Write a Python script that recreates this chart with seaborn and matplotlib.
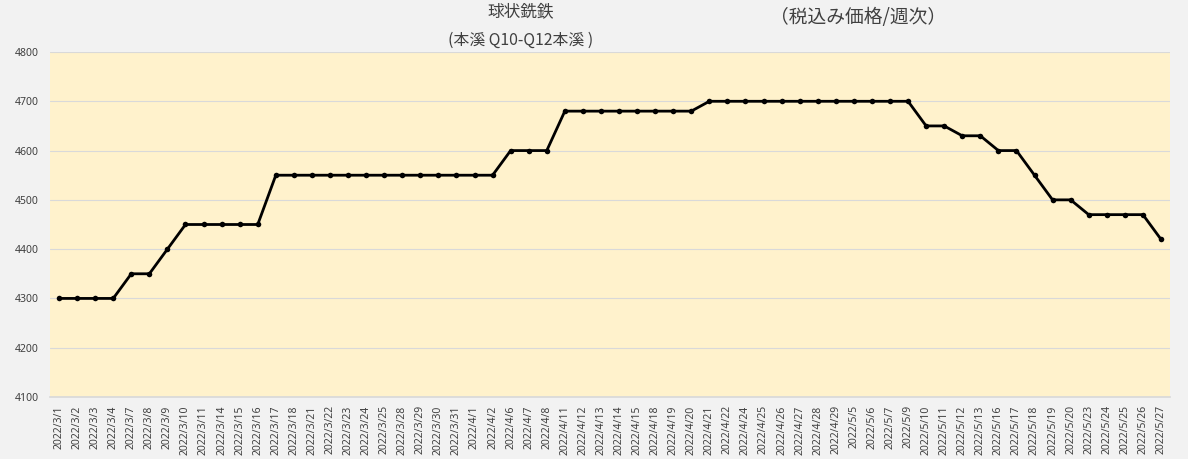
import matplotlib
matplotlib.use("Agg")
import matplotlib.pyplot as plt
import seaborn as sns
import pandas as pd
import numpy as np

dates = ["2022/3/1", "2022/3/2", "2022/3/3", "2022/3/4", "2022/3/7", "2022/3/8", "2022/3/9",
         "2022/3/10", "2022/3/11", "2022/3/14", "2022/3/15", "2022/3/16", "2022/3/17", "2022/3/18",
         "2022/3/21", "2022/3/22", "2022/3/23", "2022/3/24", "2022/3/25", "2022/3/28", "2022/3/29",
         "2022/3/30", "2022/3/31", "2022/4/1", "2022/4/2", "2022/4/6", "2022/4/7", "2022/4/8",
         "2022/4/11", "2022/4/12", "2022/4/13", "2022/4/14", "2022/4/15", "2022/4/18", "2022/4/19",
         "2022/4/20", "2022/4/21", "2022/4/22", "2022/4/24", "2022/4/25", "2022/4/26", "2022/4/27",
         "2022/4/28", "2022/4/29", "2022/5/5", "2022/5/6", "2022/5/7", "2022/5/9", "2022/5/10",
         "2022/5/11", "2022/5/12", "2022/5/13", "2022/5/16", "2022/5/17", "2022/5/18", "2022/5/19",
         "2022/5/20", "2022/5/23", "2022/5/24", "2022/5/25", "2022/5/26", "2022/5/27"]
prices = [4300, 4300, 4300, 4300, 4350, 4350, 4400,
          4450, 4450, 4450, 4450, 4450, 4550, 4550,
          4550, 4550, 4550, 4550, 4550, 4550, 4550,
          4550, 4550, 4550, 4550, 4600, 4600, 4600,
          4680, 4680, 4680, 4680, 4680, 4680, 4680,
          4680, 4700, 4700, 4700, 4700, 4700, 4700,
          4700, 4700, 4700, 4700, 4700, 4700, 4650,
          4650, 4630, 4630, 4600, 4600, 4550, 4500,
          4500, 4470, 4470, 4470, 4470, 4420]
y_ticks = [4100, 4200, 4300, 4400, 4500, 4600, 4700, 4800]
title_main = "球状銑鉄"
title_sub = "(本溪 Q10-Q12本溪 )"
title_right = "（税込み価格/週次）"

sns.set_theme(style="white")
plt.rcParams['font.family'] = ['Noto Sans CJK JP', 'DejaVu Sans']

df = pd.DataFrame({"date": dates, "price": prices})
df["pos"] = np.arange(len(df))

fig = plt.figure(figsize=(11.88, 4.59), dpi=100, facecolor="#F2F2F2")
ax = fig.add_axes([50/1188, 1 - 397/459, 1120/1188, 345/459])
ax.set_facecolor("#FFF2CC")

sns.lineplot(data=df, x="pos", y="price", ax=ax, color="black", linewidth=2,
             marker="o", markersize=4, markeredgewidth=0, sort=False)

ax.set_xlim(-0.5, len(dates) - 0.5)
ax.set_ylim(4100, 4800)
ax.set_yticks(y_ticks)
ax.set_yticklabels([str(v) for v in y_ticks], fontsize=7.5, color="#404040", family=['Noto Sans', 'DejaVu Sans'])
ax.set_xticks(np.arange(len(dates)))
ax.set_xticklabels(dates, rotation=90, fontsize=7.5, color="#404040", family=['Noto Sans', 'DejaVu Sans'])
ax.set_xticks(np.arange(len(dates) + 1) - 0.5, minor=True)
ax.tick_params(axis="x", which="major", length=0, pad=6)
ax.tick_params(axis="x", which="minor", length=4, color="#D9D9D9", direction="out")
ax.tick_params(axis="y", length=0, pad=8)
ax.grid(axis="y", color="#D9D9D9", linewidth=0.8)
ax.set_axisbelow(True)
for s in ["top", "right", "left"]:
    ax.spines[s].set_visible(False)
ax.spines["bottom"].set_color("#D9D9D9")
ax.set_xlabel("")
ax.set_ylabel("")

fig.text(521/1188, 1 - 12/459, title_main, ha="center", va="center", fontsize=12, color="#404040")
fig.text(521/1188, 1 - 40/459, title_sub, ha="center", va="center", fontsize=11.4, color="#404040")
fig.text(858/1188, 1 - 18/459, title_right, ha="center", va="center", fontsize=13.5, color="#404040")

fig.savefig("out.png", dpi=100, facecolor=fig.get_facecolor())
